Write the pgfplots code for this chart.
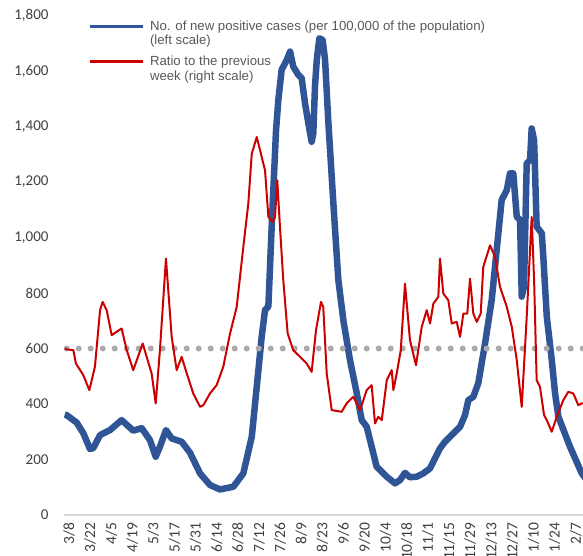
\documentclass[border=0pt]{standalone}
\usepackage{pgfplots}
\pgfplotsset{compat=1.18}
\usepackage{fontspec}
\setmainfont{Carlito}
\newfontfamily\arialfont{Liberation Sans}
\definecolor{cblue}{RGB}{47,85,151}
\definecolor{cred}{RGB}{204,0,0}
\definecolor{cgrid}{RGB}{217,217,217}
\definecolor{cdot}{RGB}{170,170,172}
\definecolor{ctext}{RGB}{64,64,64}
\definecolor{clegend}{RGB}{89,89,89}
\begin{document}
\begin{tikzpicture}
\begin{axis}[
  at={(64pt,-515pt)}, anchor=south west,
  scale only axis, width=526.8pt, height=499.5pt,
  xmin=-3.3, xmax=346, ymin=0, ymax=1800,
  axis x line*=bottom, axis y line*=left,
  y axis line style={draw=none},
  x axis line style={draw=cgrid, line width=2pt, -},
  major tick length=0pt,
  xtick={0,14,...,336},
  xticklabels={3/8,3/22,4/5,4/19,5/3,5/17,5/31,6/14,6/28,7/12,7/26,8/9,8/23,9/6,9/20,10/4,10/18,11/1,11/15,11/29,12/13,12/27,1/10,1/24,2/7},
  ytick={0,200,...,1800},
  /pgf/number format/assume math mode=true,
  /pgf/number format/1000 sep={,},
  yticklabel style={font=\fontsize{15}{18}\selectfont, text=ctext},
  xticklabel style={font=\fontsize{15.5}{18}\selectfont, text=ctext, rotate=90, anchor=east},
  xticklabel shift=4pt,
  yticklabel shift=12pt,
  legend style={at={(axis description cs:0.0452,0.995)}, anchor=north west, draw=none, fill=none, inner sep=0pt,
    font=\arialfont\fontsize{13.2}{14.5}\selectfont, text=clegend, row sep=20pt, column sep=4pt},
  legend cell align=left,
  legend image code/.code={\draw[#1, line width=3pt] (0pt,0pt) -- (53pt,0pt);},
]
\addplot[cblue, line width=6.5pt, line join=round] coordinates {
(-2.8,362)(-1.5,360)(5.1,333)(9.5,295)(13.9,238)(16.1,241)(20.6,288)(27.2,306)(34.9,342)(42.6,304)(48.2,313)(53.7,270)(57.5,210)(60.3,246)(64.3,306)(68.1,276)(74.7,264)(80.2,225)(86.9,150)(93.5,108)(100.1,92)(109.0,102)(115.6,150)(121.2,282)(124.5,462)(127.8,643)(130.0,739)(132.2,751)(134.4,1039)(137.3,1387)(138.8,1495)(141.0,1604)(144.4,1640)(146.6,1670)(148.7,1616)(152.1,1586)(154.3,1574)(156.5,1484)(158.7,1412)(160.9,1345)(162.0,1375)(163.1,1543)(164.3,1640)(166.0,1718)(168.2,1712)(169.8,1640)(171.9,1423)(175.3,1123)(178.6,847)(181.9,703)(186.3,559)(190.8,439)(194.1,342)(197.4,318)(200.7,246)(204.0,174)(208.4,150)(210.7,138)(216.2,114)(219.5,126)(222.8,152)(226.1,136)(230.6,138)(234.9,150)(239.4,168)(246.0,240)(249.3,264)(253.8,288)(259.3,318)(262.6,360)(264.8,414)(268.1,426)(271.4,475)(275.9,619)(280.3,775)(283.6,955)(286.9,1135)(290.3,1171)(292.4,1231)(294.6,1231)(296.9,1075)(299.1,1063)(300.2,787)(301.7,823)(303.5,1267)(305.7,1279)(306.8,1393)(308.4,1351)(310.1,1039)(313.5,1015)(314.5,931)(316.8,715)(320.1,559)(322.3,439)(324.5,354)(332.2,246)(340.0,150)(345.5,110)
};
\addlegendentry{\begin{tabular}[t]{@{}l@{}}No. of new positive cases (per 100,000 of the population)\\(left scale)\end{tabular}}
\addplot[cdot, line width=6pt, dash pattern=on 0pt off 12pt, line cap=round, forget plot] coordinates {(-1.5,600)(346,600)};
\addlegendimage{cred}
\addlegendentry{\begin{tabular}[t]{@{}l@{}}Ratio to the previous\\week (right scale)\end{tabular}}
\end{axis}
\begin{axis}[
  at={(64pt,-515pt)}, anchor=south west,
  scale only axis, width=526.8pt, height=499.5pt,
  xmin=-3.3, xmax=346, ymin=0, ymax=3,
  hide axis,
]
\addplot[cred, line width=2pt, line join=round] coordinates {
(-2.8,1.0)(-1.5,0.995)(2.9,0.99)(4.6,0.91)(9.5,0.84)(13.5,0.75)(17.2,0.89)(20.6,1.23)(22.3,1.28)(25.0,1.23)(28.3,1.08)(31.6,1.10)(34.9,1.12)(38.3,0.99)(42.6,0.87)(48.9,1.03)(51.5,0.95)(54.8,0.85)(57.5,0.67)(60.3,0.99)(64.3,1.54)(68.1,1.07)(71.4,0.87)(74.7,0.95)(78.1,0.85)(82.4,0.73)(86.9,0.65)(89.1,0.66)(93.5,0.73)(97.9,0.78)(102.3,0.89)(106.8,1.09)(111.2,1.25)(115.6,1.61)(118.9,1.87)(121.2,2.17)(124.5,2.27)(127.8,2.15)(130.0,2.07)(132.2,1.79)(135.1,1.76)(136.6,1.79)(138.1,2.01)(139.9,1.73)(142.1,1.41)(145.0,1.09)(148.7,0.99)(153.2,0.95)(157.6,0.91)(160.9,0.86)(163.8,1.11)(167.1,1.28)(168.6,1.25)(170.9,0.85)(174.2,0.63)(180.8,0.62)(184.1,0.67)(188.5,0.71)(193.0,0.63)(197.4,0.75)(200.7,0.78)(202.9,0.55)(205.1,0.59)(207.4,0.57)(210.7,0.81)(214.0,0.87)(215.1,0.75)(217.3,0.85)(220.0,0.99)(222.8,1.39)(226.1,1.05)(230.1,0.90)(233.9,1.13)(237.2,1.23)(239.4,1.15)(241.6,1.27)(244.9,1.31)(246.0,1.54)(248.2,1.33)(251.5,1.29)(253.8,1.15)(257.1,1.16)(259.3,1.07)(261.5,1.21)(264.1,1.21)(265.9,1.42)(268.1,1.21)(270.4,1.16)(273.0,1.21)(274.7,1.49)(279.2,1.62)(282.5,1.55)(285.8,1.37)(290.3,1.25)(293.6,1.13)(296.9,0.93)(300.2,0.65)(303.5,1.19)(306.8,1.79)(308.4,1.41)(310.1,0.81)(312.3,0.77)(315.0,0.60)(316.8,0.57)(320.1,0.50)(323.4,0.59)(327.8,0.69)(331.1,0.74)(334.4,0.73)(337.7,0.66)(340.0,0.67)(345.5,0.67)
};
\end{axis}
\pgfresetboundingbox
\path[use as bounding box] (0pt,0pt) rectangle (583pt,-556pt);
\end{tikzpicture}
\end{document}
